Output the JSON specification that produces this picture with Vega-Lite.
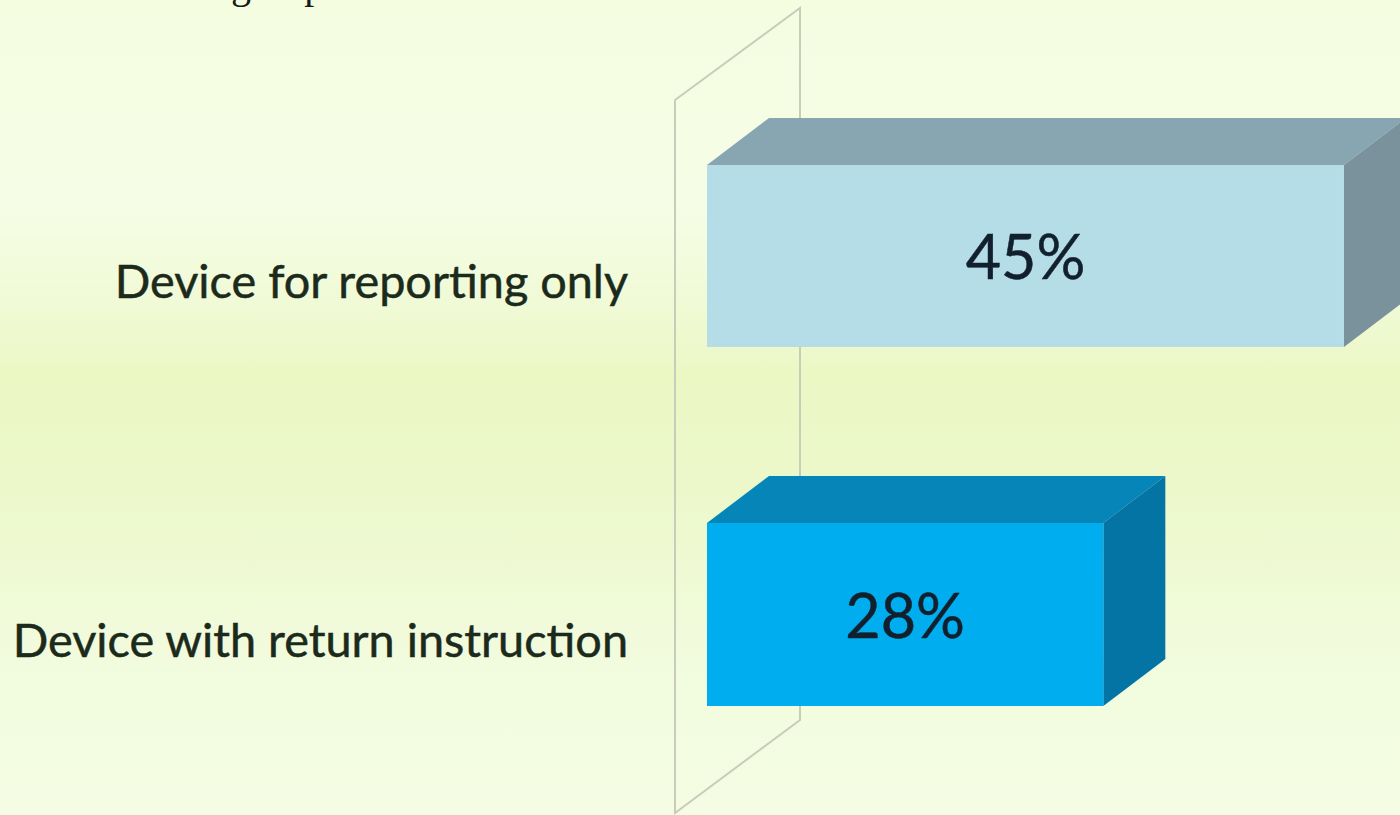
{
"$schema":"https://vega.github.io/schema/vega-lite/v6.json",
"width":1400,"height":815,
"autosize":{"type":"fit","contains":"padding"},
"padding":0,
"background":"#f4fde2",
"view":{"stroke":null},
"datasets":{
"extent":[{"x0":-49.947,"x1":48.958,"y0":0,"y1":100}],
"wall":[{"i":1,"x":-2.26,"y":12.27},{"i":2,"x":6.57,"y":0.98},{"i":3,"x":6.57,"y":88.34},{"i":4,"x":-2.26,"y":99.75},{"i":5,"x":-2.26,"y":12.27}],
"tops":[
{"face":"reporting top","x":0,"x2":45,"y":20.25},{"face":"reporting top","x":4.38,"x2":49.38,"y":14.48},
{"face":"return top","x":0,"x2":28,"y":64.17},{"face":"return top","x":4.38,"x2":32.38,"y":58.40}],
"sides":[
{"face":"reporting side","x":45,"y":20.25,"y2":42.58},{"face":"reporting side","x":49.38,"y":14.48,"y2":36.81},
{"face":"return side","x":28,"y":64.17,"y2":86.63},{"face":"return side","x":32.38,"y":58.40,"y2":80.86}],
"bars":[
{"face":"reporting front","category":"Device for reporting only","zero":0,"value":45,"center":22.5,"labelX":-5.58,"label":"45%","top":20.25,"bottom":42.58,"mid":32.0,"catY":34.9},
{"face":"return front","category":"Device with return instruction","zero":0,"value":28,"center":14,"labelX":-5.58,"label":"28%","top":64.17,"bottom":86.63,"mid":76.1,"catY":78.9}],
"heading":[{"text":"group","x":-33.63,"y":-0.25}]
},
"layer":[
{"data":{"name":"extent"},
 "mark":{"type":"rect","fill":{"gradient":"linear","x1":0,"y1":0,"x2":0,"y2":1,"stops":[
  {"offset":0,"color":"#f4fde0"},{"offset":0.25,"color":"#f6fde6"},{"offset":0.37,"color":"#f0fad6"},{"offset":0.46,"color":"#ebf8c4"},{"offset":0.6,"color":"#ecf8ca"},{"offset":0.78,"color":"#f1fbdc"},{"offset":1,"color":"#f4fde3"}]}},
 "encoding":{
  "x":{"field":"x0","type":"quantitative","axis":null,"scale":{"domain":[-49.947,48.958],"nice":false,"zero":false}},
  "x2":{"field":"x1"},
  "y":{"field":"y0","type":"quantitative","axis":null,"scale":{"domain":[100,0],"nice":false,"zero":false}},
  "y2":{"field":"y1"}}},
{"data":{"name":"wall"},
 "mark":{"type":"line","stroke":"#c9ccba","strokeWidth":2,"clip":true,"strokeJoin":"miter"},
 "encoding":{"x":{"field":"x","type":"quantitative"},"y":{"field":"y","type":"quantitative"},"order":{"field":"i","type":"quantitative"}}},
{"data":{"name":"tops"},
 "mark":{"type":"area","orient":"horizontal","clip":true},
 "encoding":{"x":{"field":"x","type":"quantitative"},"x2":{"field":"x2"},"y":{"field":"y","type":"quantitative"},
  "color":{"field":"face","type":"nominal","legend":null,"scale":{"domain":["reporting top","reporting side","reporting front","return top","return side","return front"],"range":["#88a6b2","#7a929b","#b5dde8","#0585b8","#0474a5","#00adef"]}}}},
{"data":{"name":"sides"},
 "mark":{"type":"area","orient":"vertical","clip":true},
 "encoding":{"x":{"field":"x","type":"quantitative"},"y":{"field":"y","type":"quantitative"},"y2":{"field":"y2"},
  "color":{"field":"face","type":"nominal","legend":null}}},
{"data":{"name":"bars"},
 "mark":{"type":"rect"},
 "encoding":{"x":{"field":"zero","type":"quantitative"},"x2":{"field":"value"},"y":{"field":"top","type":"quantitative"},"y2":{"field":"bottom"},
  "color":{"field":"face","type":"nominal","legend":null}}},
{"data":{"name":"bars"},
 "mark":{"type":"text","font":"Lato","fontSize":61,"fill":"#12202e","stroke":"#12202e","strokeWidth":0.5,"align":"center","baseline":"middle"},
 "encoding":{"x":{"field":"center","type":"quantitative"},"y":{"field":"mid","type":"quantitative"},"text":{"field":"label","type":"nominal"}}},
{"data":{"name":"bars"},
 "mark":{"type":"text","font":"Lato","fontSize":46.8,"fill":"#1c2a1c","stroke":"#1c2a1c","strokeWidth":0.5,"align":"right","baseline":"middle"},
 "encoding":{"x":{"field":"labelX","type":"quantitative"},"y":{"field":"catY","type":"quantitative"},"text":{"field":"category","type":"nominal"}}},
{"data":{"name":"heading"},
 "mark":{"type":"text","font":"Liberation Serif","fontSize":40,"fill":"#1a1a1a","align":"left","baseline":"alphabetic","clip":true},
 "encoding":{"x":{"field":"x","type":"quantitative"},"y":{"field":"y","type":"quantitative"},"text":{"field":"text","type":"nominal"}}}
]
}
